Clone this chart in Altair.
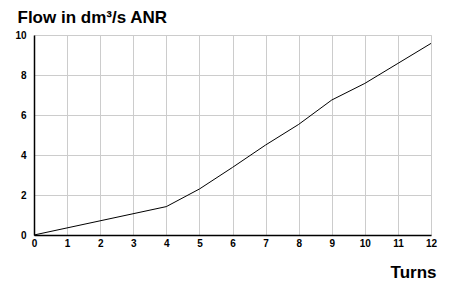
import altair as alt
import pandas as pd

turns = [0, 4, 5, 6, 7, 8, 9, 10, 11, 12]
flow = [0, 1.42, 2.3, 3.38, 4.5, 5.53, 6.75, 7.58, 8.58, 9.58]
x_ticks = list(range(0, 13))
y_ticks = [0, 2, 4, 6, 8, 10]

df = pd.DataFrame({"turns": turns, "flow": flow})

FONT = "Liberation Sans"

chart = alt.Chart(df).mark_line(color="black", strokeWidth=1).encode(
    x=alt.X("turns:Q",
            scale=alt.Scale(domain=[0, 12], nice=False),
            axis=alt.Axis(values=x_ticks, title="Turns", format="d",
                          titleX=402, titleY=42, titleAlign="right",
                          titleBaseline="alphabetic", titleFontSize=17,
                          titleFont=FONT, titleFontWeight="bold", titleColor="black",
                          labelFont=FONT, labelFontWeight="bold", labelFontSize=10,
                          labelColor="black", labelPadding=3,
                          ticks=False, domainColor="black", domainWidth=1.5,
                          gridColor="#cccccc", gridWidth=1, labelFlush=False)),
    y=alt.Y("flow:Q",
            scale=alt.Scale(domain=[0, 10], nice=False),
            axis=alt.Axis(values=y_ticks, title="Flow in dm³/s ANR", format="d",
                          titleX=-17, titleY=-13, titleAlign="left", titleAngle=0,
                          titleBaseline="alphabetic", titleFontSize=17,
                          titleFont=FONT, titleFontWeight="bold", titleColor="black",
                          labelFont=FONT, labelFontWeight="bold", labelFontSize=10,
                          labelColor="black", labelPadding=8,
                          ticks=False, domainColor="black", domainWidth=1.5,
                          gridColor="#cccccc", gridWidth=1, labelFlush=False)),
).properties(
    width=397, height=200,
    autosize=alt.AutoSizeParams(type="none"),
    padding={"left": 26, "top": 27, "right": 15, "bottom": 47},
).configure_view(
    stroke="#555555", strokeWidth=1.5
).configure(background="white")

chart.save("out.html", embed_options={"renderer": "svg", "actions": False})
